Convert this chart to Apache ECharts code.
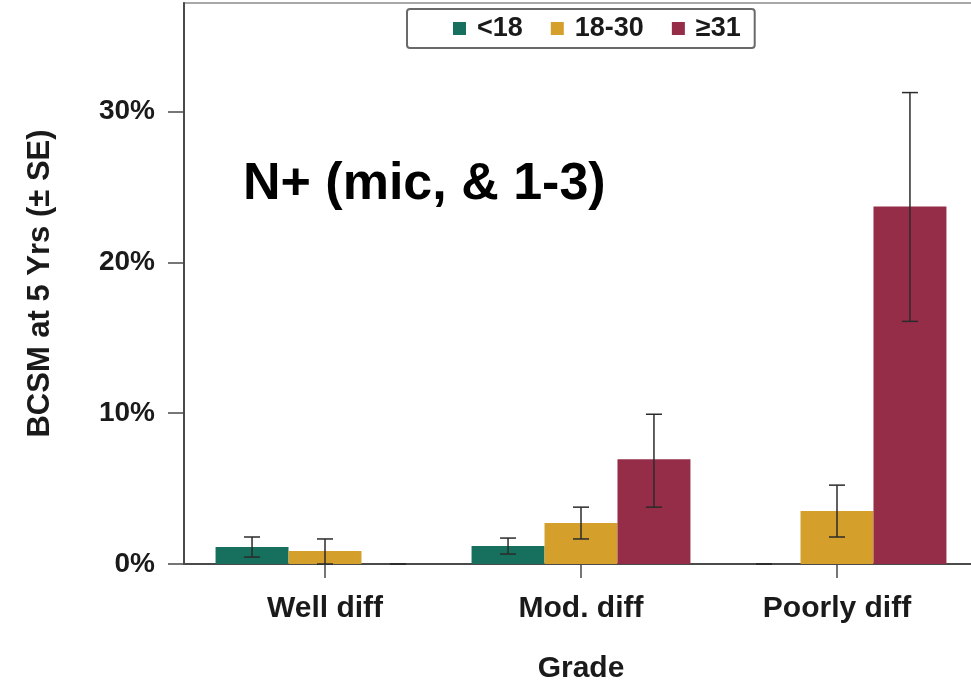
<!DOCTYPE html>
<html>
<head>
<meta charset="utf-8">
<script src="https://cdn.jsdelivr.net/npm/echarts@6/dist/echarts.min.js"></script>
<style>
  html, body { margin: 0; padding: 0; background: #fff; }
  #chart { width: 971px; height: 685px; }
</style>
</head>
<body>
<div id="chart"></div>
<script>
const categories = ['Well diff', 'Mod. diff', 'Poorly diff']
const groupNames = ['<18', '18-30', '≥31']

// BCSM at 5 years, percent
const under18 = [1.13, 1.19, 0]
const under18Low = [0.46, 0.66, 0]
const under18High = [1.79, 1.72, 0]

const from18to30 = [0.86, 2.72, 3.51]
const from18to30Low = [0, 1.66, 1.79]
const from18to30High = [1.66, 3.77, 5.23]

const over31 = [0, 6.95, 23.7]
const over31Low = [0, 3.77, 16.09]
const over31High = [0, 9.93, 31.26]

const yTicks = [0, 10, 20, 30]

const colors = ['#17705e', '#d4a02b', '#952c48']
const fontFamily = '"Liberation Sans", Arial, sans-serif'
const categoryGap = 0.145
const yMax = 37.2

const chart = echarts.init(document.getElementById('chart'))

function errorSeries(idx, low, high) {
  const data = categories.map((c, i) => [i, low[i], high[i]])
  return {
    type: 'custom',
    xAxisIndex: 1,
    yAxisIndex: 1,
    z: 10,
    silent: true,
    data: data,
    renderItem(params, api) {
      const band = api.size([1, 0])[0]
      const barW = band * (1 - categoryGap) / 3
      const center = api.coord([api.value(0), 0])[0] + (idx - 1) * barW
      const top = api.coord([api.value(0), api.value(2)])[1]
      const bottom = api.coord([api.value(0), api.value(1)])[1]
      const cap = 8
      const style = { stroke: '#2b2b2b', lineWidth: 1.5 }
      return {
        type: 'group',
        children: [
          { type: 'line', shape: { x1: center, y1: top, x2: center, y2: bottom }, style },
          { type: 'line', shape: { x1: center - cap, y1: top, x2: center + cap, y2: top }, style },
          { type: 'line', shape: { x1: center - cap, y1: bottom, x2: center + cap, y2: bottom }, style }
        ]
      }
    }
  }
}

function barSeries(idx, values) {
  return {
    name: groupNames[idx],
    type: 'bar',
    xAxisIndex: 1,
    yAxisIndex: 1,
    data: values,
    barGap: '0%',
    barCategoryGap: (categoryGap * 100) + '%',
    itemStyle: { color: colors[idx] }
  }
}

chart.setOption({
  animation: false,
  title: {
    text: 'N+ (mic, & 1-3)',
    left: 238,
    top: 154,
    textStyle: { fontFamily, fontSize: 52, fontWeight: 'bold', color: '#000' }
  },
  legend: {
    left: 407,
    top: 9,
    padding: [6, 14, 6, 46],
    borderColor: '#6a6a6a',
    borderWidth: 2,
    borderRadius: 3,
    itemWidth: 13,
    itemHeight: 13,
    itemGap: 28,
    icon: 'rect',
    data: groupNames,
    textStyle: { fontFamily, fontSize: 27, fontWeight: 'bold', color: '#1a1a1a', padding: [0, 0, 0, 6] }
  },
  grid: [
    { left: 184, top: 3, width: 810, bottom: 121, outerBoundsMode: 'none', show: true, borderColor: '#a8a8a8', borderWidth: 2 },
    { left: 197, top: 3, width: 768, bottom: 121, outerBoundsMode: 'none' }
  ],
  xAxis: [
    {
      type: 'category',
      gridIndex: 0,
      data: categories,
      axisLine: { lineStyle: { color: '#4a4a4a', width: 2 } },
      axisTick: { show: false },
      axisLabel: { show: false }
    },
    {
      type: 'category',
      gridIndex: 1,
      data: categories,
      axisLine: { show: false },
      axisTick: { show: true, alignWithLabel: true, length: 14, lineStyle: { color: '#4a4a4a', width: 1.5 } },
      axisLabel: { margin: 30, fontFamily, fontSize: 30, fontWeight: 'bold', color: '#1a1a1a' },
      name: 'Grade',
      nameLocation: 'middle',
      nameGap: 90,
      nameTextStyle: { fontFamily, fontSize: 30, fontWeight: 'bold', color: '#1a1a1a' }
    }
  ],
  yAxis: [
    {
      type: 'value',
      gridIndex: 0,
      min: 0,
      max: yMax,
      interval: 10,
      splitLine: { show: false },
      axisLine: { show: true, lineStyle: { color: '#4a4a4a', width: 2 } },
      axisTick: { show: true, length: 16, customValues: yTicks, lineStyle: { color: '#4a4a4a', width: 1.5 } },
      axisLabel: {
        margin: 29,
        customValues: yTicks,
        formatter: '{value}%',
        fontFamily, fontSize: 28, fontWeight: 'bold', color: '#1a1a1a'
      },
      name: 'BCSM at 5 Yrs (± SE)',
      nameLocation: 'middle',
      nameGap: 128,
      nameTextStyle: { fontFamily, fontSize: 31, fontWeight: 'bold', color: '#1a1a1a' }
    },
    {
      type: 'value',
      gridIndex: 1,
      min: 0,
      max: yMax,
      show: false
    }
  ],
  series: [
    barSeries(0, under18),
    barSeries(1, from18to30),
    barSeries(2, over31),
    errorSeries(0, under18Low, under18High),
    errorSeries(1, from18to30Low, from18to30High),
    errorSeries(2, over31Low, over31High)
  ]
})
</script>
</body>
</html>
